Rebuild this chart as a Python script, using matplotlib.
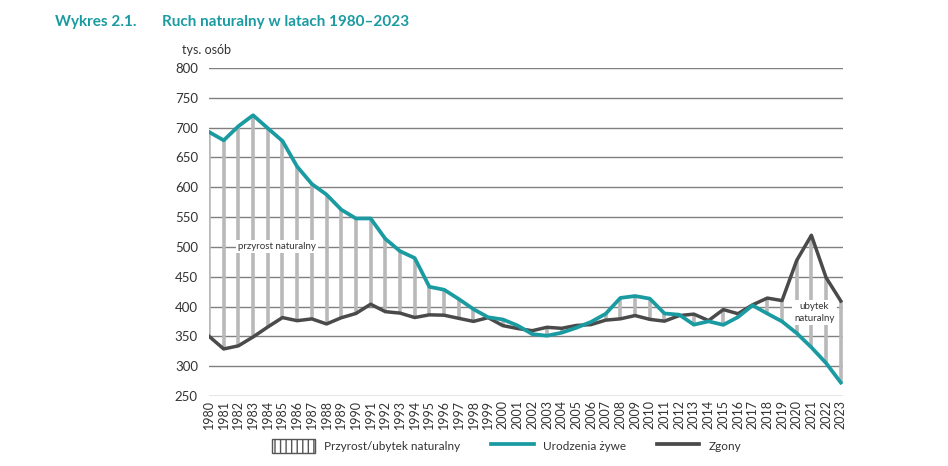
import matplotlib
matplotlib.use("Agg")
import matplotlib.pyplot as plt
from matplotlib.patches import Patch
from matplotlib.lines import Line2D

plt.rcParams['font.family'] = ['Lato', 'DejaVu Sans']
plt.rcParams['hatch.linewidth'] = 1.0

years = list(range(1980, 2024))

# urodzenia zywe, tys.
births = [692.8, 678.7, 702.4, 720.8, 699.0, 677.6, 634.7, 605.5, 587.7, 562.5,
          547.7, 547.7, 513.6, 492.9, 481.3, 433.1, 428.2, 412.6, 395.6, 382.0,
          378.3, 368.2, 353.8, 351.1, 356.1, 364.4, 374.2, 387.9, 414.5, 417.6,
          413.3, 388.4, 386.3, 369.6, 375.2, 369.3, 382.3, 402.0, 388.2, 375.0,
          355.3, 331.5, 305.1, 272.5]

# zgony, tys.
deaths = [350.2, 328.9, 334.1, 349.0, 365.7, 381.5, 376.3, 379.3, 370.8, 381.2,
          388.4, 403.9, 391.4, 389.0, 381.6, 386.1, 385.5, 380.2, 375.1, 381.4,
          368.0, 363.2, 359.5, 365.2, 363.5, 368.3, 369.7, 377.2, 379.4, 384.9,
          378.5, 375.5, 384.8, 387.3, 376.5, 394.9, 388.0, 402.9, 414.2, 410.0,
          477.4, 519.5, 448.5, 409.3]

yticks = [250, 300, 350, 400, 450, 500, 550, 600, 650, 700, 750, 800]

teal = '#1a9ba1'
dark = '#4a4a4a'
bar_grey = '#b9b9b9'
grid_grey = '#808080'

fig = plt.figure(figsize=(9.48, 4.66), dpi=100)
ax = fig.add_axes([209 / 948, 1 - 396 / 466, (843 - 209) / 948, (396 - 68) / 466])

lo = [min(b, d) for b, d in zip(births, deaths)]
hi = [max(b, d) for b, d in zip(births, deaths)]
ax.vlines(years, lo, hi, colors=bar_grey, linewidth=2.6, zorder=2)

ax.plot(years, deaths, color=dark, linewidth=2.5, zorder=3, solid_joinstyle='round')
ax.plot(years, births, color=teal, linewidth=2.7, zorder=4, solid_joinstyle='round')

ax.set_xlim(1980, 2023.15)
ax.set_ylim(250, 800)
ax.set_yticks(yticks)
ax.set_xticks(years)
ax.set_xticklabels([str(y) for y in years], rotation=90, fontsize=9, color='#333333')
ax.tick_params(axis='y', labelsize=9.5, colors='#333333', length=0, pad=8)
ax.tick_params(axis='x', length=0, pad=3)
ax.grid(axis='y', color=grid_grey, linewidth=1.0, zorder=1)
ax.set_axisbelow(True)
for s in ax.spines.values():
    s.set_visible(False)

ax.text(1984.6, 500, 'przyrost naturalny', fontsize=7, ha='center', va='center', color='#333333',
        bbox=dict(facecolor='white', edgecolor='none', pad=1.5), zorder=5)
ax.text(2021.2, 390, 'ubytek\nnaturalny', fontsize=7, ha='center', va='center', color='#333333',
        linespacing=1.5, bbox=dict(facecolor='white', edgecolor='none', pad=1.5), zorder=5)

fig.text(55 / 948, 1 - 22 / 466, 'Wykres 2.1.', fontsize=11, fontweight='bold', color=teal, va='center')
fig.text(162 / 948, 1 - 22 / 466, 'Ruch naturalny w latach 1980–2023', fontsize=11, fontweight='bold',
         color=teal, va='center')
fig.text(182 / 948, 1 - 50 / 466, 'tys. osób', fontsize=9, color='#333333', va='center')

handles = [Patch(facecolor='white', edgecolor='#555555', hatch='|||', linewidth=1.0),
           Line2D([], [], color=teal, linewidth=2.7),
           Line2D([], [], color=dark, linewidth=2.7)]
labels = ['Przyrost/ubytek naturalny', 'Urodzenia żywe', 'Zgony']
fig.legend(handles, labels, loc='center', bbox_to_anchor=(507 / 948, 1 - 446 / 466), ncol=3,
           frameon=False, fontsize=8.5, handlelength=3.6, handleheight=1.5, columnspacing=2.6,
           handletextpad=0.8, labelcolor='#333333')

fig.savefig('out.png', dpi=100)
